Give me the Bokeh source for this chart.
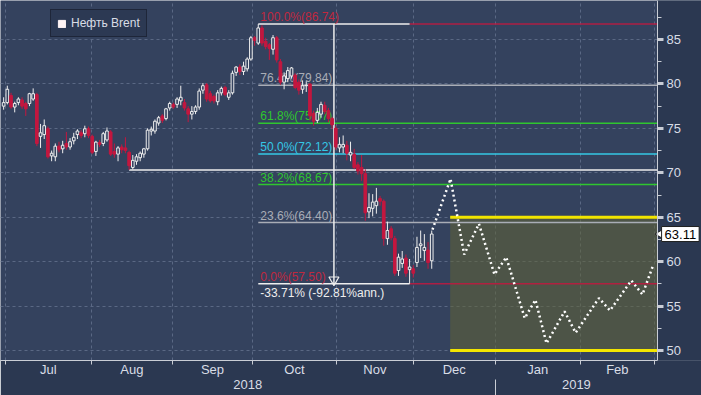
import math
import pandas as pd
from bokeh.plotting import figure
from bokeh.models import (ColumnDataSource, FixedTicker, LinearAxis, Legend, LegendItem,
                          Label, Range1d)
from bokeh.core.properties import value
from bokeh.embed import file_html
from bokeh.resources import INLINE

# ---------------- data ----------------
trade_dates = pd.bdate_range("2018-06-28", "2018-12-07")
day_index = list(range(-2, len(trade_dates) - 2))      # 0 = 2 Jul 2018 (trading-day axis)

opens = [77.5, 77.9, 78.7, 77.4, 77.9, 78.2, 77.8, 77.8, 78.3, 78.8,
         74.1, 74.3, 74.95, 71.9, 71.8, 73.0, 72.7, 73.3, 72.9, 73.6,
         74.3, 74.5, 74.4, 74.95, 74.1, 72.4, 73.4, 73.3, 73.7, 74.6,
         72.4, 72.1, 72.9, 72.8, 72.3, 70.6, 71.3, 71.7, 72.1, 72.7,
         74.7, 74.7, 75.6, 76.4, 76.1, 77.3, 77.7, 77.7, 78.1, 77.9,
         77.2, 76.6, 76.9, 77.4, 79.3, 79.9, 78.9, 78.6, 78.0, 79.0,
         79.6, 78.5, 79.0, 81.3, 81.9, 81.4, 81.7, 82.8, 85.2, 84.6,
         86.3, 84.8, 84.4, 83.9, 85.2, 82.5, 80.2, 80.6, 80.9, 81.0,
         80.2, 79.4, 79.8, 80.0, 76.7, 75.9, 76.6, 77.6, 77.0, 76.1,
         75.0, 72.8, 72.9, 73.1, 72.0, 72.1, 70.9, 70.6, 69.9, 65.6,
         66.0, 66.3, 67.1, 66.8, 62.6, 63.7, 62.6, 59.0, 59.8, 60.4,
         59.1, 59.2, 59.9, 61.8, 61.25, 61.3, 60.1]
highs = [78.5, 79.8, 79.0, 78.0, 78.5, 78.5, 78.0, 79.0, 79.5, 79.0,
         75.5, 76.0, 75.2, 72.5, 73.3, 73.5, 73.6, 74.6, 73.9, 74.5,
         74.9, 74.8, 75.3, 75.2, 74.3, 73.6, 73.7, 74.6, 75.1, 74.8,
         73.3, 73.0, 73.2, 74.0, 72.5, 72.0, 72.1, 72.4, 72.8, 75.0,
         75.2, 76.0, 76.4, 76.6, 77.3, 78.0, 77.9, 78.5, 79.8, 78.3,
         77.5, 77.5, 77.6, 79.5, 80.1, 80.1, 79.2, 78.8, 79.3, 79.7,
         79.8, 79.3, 81.5, 82.0, 82.2, 82.5, 83.0, 85.4, 85.4, 86.74,
         86.6, 85.2, 84.6, 85.5, 85.4, 82.8, 81.3, 81.9, 81.9, 81.2,
         80.5, 80.4, 80.3, 80.1, 77.0, 77.3, 78.0, 78.0, 77.3, 76.3,
         75.3, 74.0, 74.2, 73.6, 73.5, 72.7, 71.2, 72.0, 70.4, 67.7,
         67.6, 68.3, 67.4, 67.0, 64.5, 64.0, 62.9, 60.9, 61.2, 60.8,
         60.3, 59.6, 62.8, 63.5, 63.1, 62.2, 63.5]
lows = [77.1, 77.7, 77.2, 76.8, 77.6, 77.2, 76.4, 77.5, 78.1, 73.0,
        72.8, 73.8, 71.6, 71.3, 71.3, 72.3, 72.2, 72.6, 72.6, 73.2,
        73.8, 73.9, 74.0, 73.9, 72.1, 71.9, 72.9, 73.0, 73.5, 71.9,
        71.7, 71.3, 72.2, 72.2, 70.32, 70.4, 70.9, 71.3, 71.7, 72.5,
        74.2, 74.4, 75.3, 75.6, 75.9, 77.0, 77.2, 77.3, 77.6, 77.0,
        75.7, 76.0, 76.6, 77.1, 78.9, 78.0, 77.9, 77.8, 77.6, 78.7,
        78.6, 78.2, 78.8, 80.9, 81.0, 81.0, 81.4, 82.6, 84.3, 84.4,
        84.3, 83.9, 82.7, 83.3, 82.4, 79.9, 79.4, 80.2, 80.6, 79.4,
        78.8, 78.9, 79.1, 75.9, 75.3, 75.6, 76.2, 76.6, 75.7, 74.9,
        72.6, 72.3, 72.2, 71.4, 71.3, 70.4, 69.8, 69.1, 64.6, 64.9,
        65.1, 65.4, 66.3, 61.8, 61.9, 62.4, 58.4, 58.4, 59.3, 58.3,
        57.50, 58.2, 59.4, 60.4, 60.1, 59.2, 59.2]
closes = [77.9, 79.4, 77.4, 77.8, 78.3, 77.5, 77.2, 78.9, 78.9, 73.3,
          74.5, 75.3, 71.8, 72.2, 73.0, 72.6, 73.1, 72.9, 73.5, 74.0,
          74.7, 74.2, 74.95, 74.2, 72.3, 73.45, 73.2, 74.4, 74.7, 72.1,
          72.1, 72.8, 72.6, 72.5, 70.8, 71.4, 71.8, 72.2, 72.7, 74.8,
          74.9, 75.8, 76.2, 75.9, 77.2, 77.8, 77.4, 78.3, 78.5, 77.3,
          76.6, 76.9, 77.4, 79.2, 79.8, 78.3, 78.1, 78.1, 79.0, 79.5,
          78.8, 79.0, 81.2, 81.9, 81.4, 82.0, 82.8, 85.2, 84.9, 86.3,
          84.6, 84.2, 84.0, 85.2, 82.7, 80.2, 80.9, 81.5, 81.8, 79.6,
          79.3, 79.8, 79.85, 76.4, 75.8, 76.8, 77.7, 76.9, 76.1, 75.4,
          72.9, 73.2, 73.2, 72.2, 72.3, 70.6, 70.2, 69.9, 65.5, 66.1,
          66.7, 66.8, 66.8, 62.6, 63.5, 62.7, 58.7, 60.5, 60.3, 58.7,
          59.4, 58.7, 61.6, 62.0, 61.6, 59.9, 63.11]

fib_pct = [100.0, 76.4, 61.8, 50.0, 38.2, 23.6, 0.0]
fib_level = [86.74, 79.84, 75.57, 72.12, 68.67, 64.40, 57.50]
fib_color = ["#c0283e", "#a9adb6", "#2fc62f", "#34c8e6", "#2fc62f", "#a9adb6", "#c0283e"]
fib_start, fib_end = 67, 108          # index of the high (3 Oct) and of the low (29 Nov)
change_text = "-33.71% (-92.81%ann.)"

support_start, support_level = 32, 70.32

fc_x = [114.2, 119.1, 122.8, 126.8, 131.0, 134.2, 139.2, 142.1, 145.1, 150.0,
        153.0, 159.3, 162.3, 168.1, 171.1, 174.0]
fc_y = [63.6, 69.32, 60.8, 64.26, 58.56, 60.5, 53.64, 55.7, 50.8, 54.4,
        52.0, 55.9, 54.5, 57.88, 56.3, 59.6]

band_start, band_low, band_high = 119.0, 50.0, 65.0
last_price = 63.11

month_names = ["Jul", "Aug", "Sep", "Oct", "Nov", "Dec", "Jan", "Feb"]
month_bounds = [-1.5, 21.7, 43.8, 65.4, 88.2, 109.0, 131.2, 154.2, 174.4]
year_names = ["2018", "2019"]
price_ticks = [50, 55, 60, 65, 70, 75, 80, 85]

X_START, X_AXIS, X_END = -2.85, 175.2, 187.1     # view start, price-axis position, view end
Y_START, Y_END = 48.876, 89.39

# ---------------- styling ----------------
BG = "#34425e"
BORDER = "#2b3851"
AXIS = "#c9cdd5"
TXT = "#d9dde6"
GRID = "#5a6884"
RED = "#c3173f"
WHITE = "#eeeeee"
FONT = "Liberation Sans"
FRAME_H = 360

p = figure(width=701, height=395, x_range=Range1d(X_START, X_END),
           y_range=Range1d(Y_START, Y_END), y_axis_location="right",
           toolbar_location=None, output_backend="svg",
           min_border_left=0, min_border_top=0, min_border_right=0, min_border_bottom=35)
p.background_fill_color = BG
p.border_fill_color = BORDER
p.outline_line_color = None

# grids
p.xgrid.ticker = FixedTicker(ticks=month_bounds)
for g in (p.xgrid, p.ygrid):
    g.grid_line_color = GRID
    g.grid_line_dash = "3 3"
    g.grid_line_width = 1

# price-axis strip background
p.quad(left=[X_AXIS], right=[X_END + 1], bottom=[Y_START - 1], top=[Y_END + 1],
       fill_color=BORDER, line_color=None)

# right price axis (drawn at the edge of the price area)
minor_prices = [t + 2.5 for t in price_ticks]
p.yaxis.fixed_location = X_AXIS
p.yaxis.ticker = FixedTicker(ticks=price_ticks, minor_ticks=minor_prices)
p.yaxis.axis_line_color = AXIS
p.yaxis.major_tick_line_color = AXIS
p.yaxis.major_tick_line_width = 3
p.yaxis.major_tick_out = 6
p.yaxis.major_tick_in = 0
p.yaxis.minor_tick_line_color = AXIS
p.yaxis.minor_tick_out = 4
p.yaxis.minor_tick_in = 0
p.yaxis.major_label_standoff = 3
p.yaxis.major_label_text_color = TXT
p.yaxis.major_label_text_font = FONT
p.yaxis.major_label_text_font_size = "13px"

# bottom month axis
month_mids = [round((a + b) / 2, 2) for a, b in zip(month_bounds[:-1], month_bounds[1:])]
xa = p.xaxis[0]
xa.bounds = (X_START, X_AXIS)
xa.ticker = FixedTicker(ticks=month_mids, minor_ticks=month_bounds)
xa.major_label_overrides = dict(zip(month_mids, month_names))
xa.axis_line_color = AXIS
xa.major_tick_line_color = None
xa.major_tick_out = 0
xa.major_tick_in = 0
xa.minor_tick_line_color = AXIS
xa.minor_tick_out = 4
xa.minor_tick_in = 0
xa.major_label_standoff = -3
xa.major_label_text_color = TXT
xa.major_label_text_font = FONT
xa.major_label_text_font_size = "13px"

# year axis
jan = month_bounds[6]
year_mids = [round((X_START + jan) / 2, 2), round((jan + X_AXIS) / 2, 2)]
ya = LinearAxis(ticker=FixedTicker(ticks=year_mids, minor_ticks=[jan]),
                major_label_overrides=dict(zip(year_mids, year_names)))
ya.bounds = (X_START, X_AXIS)
ya.axis_line_color = None
ya.major_tick_line_color = None
ya.major_tick_out = 0
ya.major_tick_in = 0
ya.minor_tick_line_color = AXIS
ya.minor_tick_out = 0
ya.minor_tick_in = -20
ya.major_label_standoff = 0
ya.major_label_text_color = TXT
ya.major_label_text_font = FONT
ya.major_label_text_font_size = "13px"
p.add_layout(ya, "below")

# forecast band
p.quad(left=[band_start], right=[X_AXIS], bottom=[band_low], top=[band_high],
       fill_color="#626535", fill_alpha=0.55, line_color=None)

# fibonacci lines
mid_lv = fib_level[1:-1]
p.segment(x0=[fib_start] * len(mid_lv), y0=mid_lv, x1=[X_AXIS] * len(mid_lv), y1=mid_lv,
          line_color=fib_color[1:-1], line_width=1.5)
p.segment(x0=[fib_end, fib_end], y0=[fib_level[0], fib_level[-1]], x1=[X_AXIS, X_AXIS],
          y1=[fib_level[0], fib_level[-1]], line_color=RED, line_width=1.5, line_alpha=0.85)
p.segment(x0=[fib_start, fib_start], y0=[fib_level[0], fib_level[-1]],
          x1=[fib_end, fib_end], y1=[fib_level[0], fib_level[-1]],
          line_color=WHITE, line_width=1.5)
mid_x = (fib_start + fib_end) / 2
p.segment(x0=[mid_x], y0=[fib_level[-1]], x1=[mid_x], y1=[fib_level[0]],
          line_color=WHITE, line_width=1.5)
p.scatter(x=[mid_x], y=[fib_level[-1] + 0.45], marker="inverted_triangle", size=10,
          fill_color=None, line_color=WHITE, line_width=1.2)

# support line from August low
p.segment(x0=[support_start], y0=[support_level], x1=[X_AXIS], y1=[support_level],
          line_color=WHITE, line_width=1.5)

# yellow band edges
p.segment(x0=[band_start, band_start], y0=[band_high, band_low], x1=[X_AXIS, X_AXIS],
          y1=[band_high, band_low], line_color="#f2e500", line_width=3)

# fib labels
fib_text = [f"{pc:.1f}%({lv:.2f})" for pc, lv in zip(fib_pct, fib_level)]
p.text(x=[fib_start] * len(fib_level), y=fib_level, text=fib_text, text_color=fib_color,
       text_font=value(FONT), text_font_size="12px", text_baseline="bottom",
       x_offset=2, y_offset=0)
p.text(x=[fib_start], y=[fib_level[-1]], text=[change_text], text_color=WHITE,
       text_font=value(FONT), text_font_size="12px", text_baseline="top",
       x_offset=2, y_offset=2)

# candlesticks
up = [c >= o for o, c in zip(opens, closes)]
src = ColumnDataSource(dict(
    x=day_index, o=opens, h=highs, l=lows, c=closes,
    top=[max(o, c) for o, c in zip(opens, closes)],
    bot=[min(o, c) for o, c in zip(opens, closes)],
    lc=[WHITE if u else RED for u in up],
    fc=[BG if u else RED for u in up],
))
p.segment(x0="x", y0="h", x1="x", y1="l", line_color="lc", line_width=1, source=src)
p.vbar(x="x", width=0.72, top="top", bottom="bot", fill_color="fc", line_color="lc",
       line_width=1, source=src)

# forecast path
p.line(fc_x, fc_y, line_color="white", line_width=2.5, line_dash="2 3")

# last price tag with pointer
p.scatter(x=[X_AXIS + 1.0], y=[last_price], marker="triangle", angle=math.pi / 2, size=11,
          fill_color="white", line_color="#202020", line_width=1)
p.add_layout(Label(x=X_AXIS, y=last_price, x_offset=4, text=f"{last_price:.2f}",
                   text_font=FONT, text_font_size="13px", text_color="black",
                   text_baseline="middle", background_fill_color="white",
                   border_line_color="#202020", padding=3))

# legend
nan = float("nan")
leg_r = p.quad(left=[nan], right=[nan], top=[nan], bottom=[nan],
               fill_color="#fff4f4", line_color="#fff4f4")
legend = Legend(items=[LegendItem(label="Нефть Brent", renderers=[leg_r])],
                location=(50, FRAME_H - 37), orientation="vertical",
                background_fill_color="#2c3953", background_fill_alpha=1,
                border_line_color="#0f1420", border_line_width=1.5,
                label_text_color=TXT, label_text_font=FONT, label_text_font_size="12px",
                glyph_width=9, glyph_height=9, label_height=13, label_standoff=5,
                padding=6, spacing=0, margin=0)
p.add_layout(legend)

open("out.html", "w").write(file_html(p, INLINE))
